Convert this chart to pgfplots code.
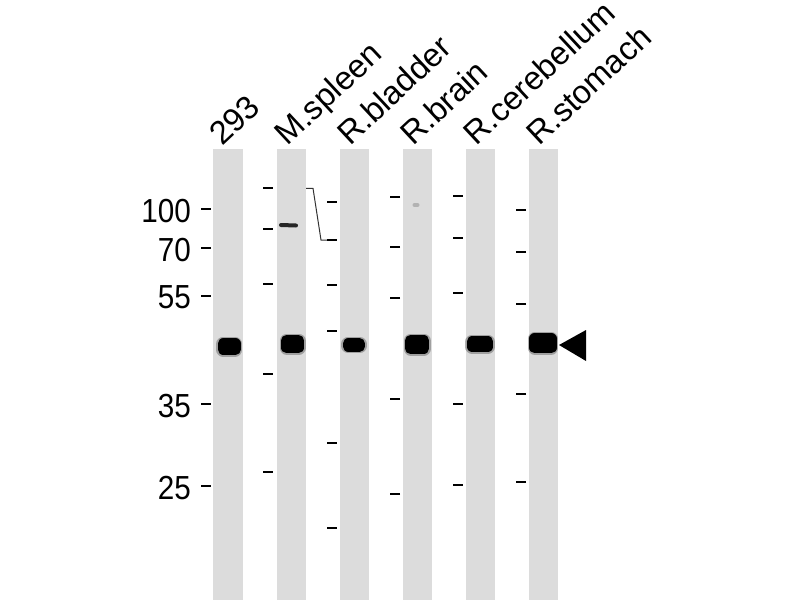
\documentclass[border=0pt]{standalone}
\usepackage{fontspec}
\setmainfont{Liberation Sans}
\usepackage{graphicx}
\usepackage{pgfplots}
\pgfplotsset{compat=1.18}
\definecolor{lane}{RGB}{220,220,220}
\newcommand{\lbl}{\fontsize{25}{29}\selectfont}
\newcommand{\lanefont}{\fontsize{24.5}{29}\selectfont}
\newcommand{\cond}[1]{\scalebox{0.89}[1]{#1}}
\tikzset{lanelabel/.style={rotate=43, anchor=base west, inner sep=0pt, font=\lanefont}}
\begin{document}
\begin{tikzpicture}
\begin{axis}[
  x=0.75pt, y=0.75pt,
  xmin=0, xmax=800, ymin=0, ymax=600,
  y dir=reverse,
  hide axis,
  clip=false,
  marker/.style={only marks, mark=-, mark size=3.75pt,
    mark options={line width=1.5pt, black}},
  band/.style={fill=black, draw=black, line width=8.25pt, line join=round},
  halo/.style={fill=black!60, draw=black!60, opacity=0.5, line width=10.5pt, line join=round},
]
% lanes
\addplot[fill=lane, draw=none] coordinates {(213,149)(242.7,149)(242.7,600)(213,600)} -- cycle;
\addplot[fill=lane, draw=none] coordinates {(277,149)(306,149)(306,600)(277,600)} -- cycle;
\addplot[fill=lane, draw=none] coordinates {(340,149)(369,149)(369,600)(340,600)} -- cycle;
\addplot[fill=lane, draw=none] coordinates {(403,149)(432,149)(432,600)(403,600)} -- cycle;
\addplot[fill=lane, draw=none] coordinates {(466,149)(495,149)(495,600)(466,600)} -- cycle;
\addplot[fill=lane, draw=none] coordinates {(529,149)(558,149)(558,600)(529,600)} -- cycle;

% molecular weight markers, lane 1 labelled
\addplot[marker, nodes near coords, point meta=explicit symbolic,
  every node near coord/.style={anchor=east, xshift=-10.3pt, yshift=-1.2pt,
    inner sep=0pt, font=\lbl, black}]
  coordinates {(205.7,209)[\cond{100}] (205.7,248)[\cond{70}] (205.7,296)[\cond{55}]
               (205.7,404)[\cond{35}] (205.7,486)[\cond{25}]};
\addplot[marker] coordinates {(267.7,188)(267.7,229)(267.7,284)(267.7,374)(267.7,472)};
\addplot[marker] coordinates {(331.7,202)(331.7,240)(331.7,285)(331.7,331)(331.7,443)(331.7,528)};
\addplot[marker] coordinates {(395,197)(395,247)(395,298)(395,399)(395,494)};
\addplot[marker] coordinates {(457.7,196)(457.7,238)(457.7,293)(457.7,404)(457.7,485)};
\addplot[marker] coordinates {(521,210)(521,252)(521,304)(521,394)(521,482)};

% bracket between lane 2 and lane 3 ladders
\addplot[black!80, line width=0.75pt] coordinates {(306,188.3)(313,188.3)(321,240)(332,240)};

% main bands (inner rectangles, rounded by the stroke)
\addplot[halo] coordinates {(223.2,343.8)(235.2,343.8)(235.2,349.5)(223.2,349.5)} -- cycle;
\addplot[band] coordinates {(223.2,343.8)(235.2,343.8)(235.2,349.5)(223.2,349.5)} -- cycle;
\addplot[halo] coordinates {(286.5,340.5)(298.5,340.5)(298.5,347.8)(286.5,347.8)} -- cycle;
\addplot[band] coordinates {(286.5,340.5)(298.5,340.5)(298.5,347.8)(286.5,347.8)} -- cycle;
\addplot[halo] coordinates {(348.2,343.8)(359.5,343.8)(359.5,346.2)(348.2,346.2)} -- cycle;
\addplot[band] coordinates {(348.2,343.8)(359.5,343.8)(359.5,346.2)(348.2,346.2)} -- cycle;
\addplot[halo] coordinates {(410.5,340.5)(423.8,340.5)(423.8,348.5)(410.5,348.5)} -- cycle;
\addplot[band] coordinates {(410.5,340.5)(423.8,340.5)(423.8,348.5)(410.5,348.5)} -- cycle;
\addplot[halo] coordinates {(472.2,341.5)(487.8,341.5)(487.8,346.8)(472.2,346.8)} -- cycle;
\addplot[band] coordinates {(472.2,341.5)(487.8,341.5)(487.8,346.8)(472.2,346.8)} -- cycle;
\addplot[halo] coordinates {(534.8,338.8)(551.2,338.8)(551.2,347.8)(534.8,347.8)} -- cycle;
\addplot[band] coordinates {(534.8,338.8)(551.2,338.8)(551.2,347.8)(534.8,347.8)} -- cycle;

% minor bands
\addplot[black!85, line width=3pt, line cap=round] coordinates {(281,225)(296,225.5)};
\addplot[black!30, line width=3pt, line cap=round] coordinates {(414.5,205)(417.5,205)};

% arrowhead
\addplot[fill=black, draw=none] coordinates {(559,345)(586,330)(586,361)} -- cycle;

% lane labels
\node[lanelabel] at (axis cs:222,147) {293};
\node[lanelabel] at (axis cs:287,147) {M.spleen};
\node[lanelabel] at (axis cs:350,147) {R.bladder};
\node[lanelabel] at (axis cs:413,147) {R.brain};
\node[lanelabel] at (axis cs:476,147) {R.cerebellum};
\node[lanelabel] at (axis cs:539,147) {R.stomach};
\end{axis}
\pgfresetboundingbox
\useasboundingbox (current axis.south west) rectangle (current axis.north east);
\end{tikzpicture}
\end{document}
